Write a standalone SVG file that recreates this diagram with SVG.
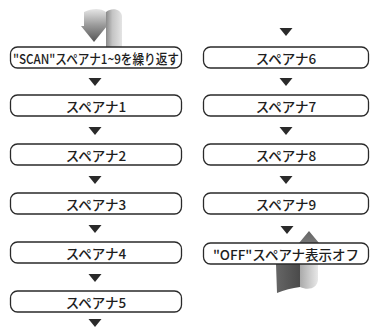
<svg xmlns="http://www.w3.org/2000/svg" width="371" height="329" viewBox="0 0 371 329">
<defs>
<style>
.box{fill:#fff;stroke:#2a2a2a;stroke-width:1.3}
.lbl{font-family:"Noto Sans CJK JP","Noto Sans",sans-serif;font-size:13.5px;font-weight:500;fill:#1e1e1e;text-anchor:middle;dominant-baseline:central}
.arr{fill:#2a2a2a}
</style>
<linearGradient id="gBody" x1="0" y1="0" x2="0" y2="1">
<stop offset="0" stop-color="#e6e6e6"/><stop offset="0.5" stop-color="#999"/><stop offset="1" stop-color="#555"/>
</linearGradient>
<linearGradient id="gStrip" x1="0" y1="0" x2="1" y2="0">
<stop offset="0" stop-color="#8a8a8a"/><stop offset="0.4" stop-color="#c4c4c4"/><stop offset="1" stop-color="#e4e4e4"/>
</linearGradient>
<linearGradient id="gDark" x1="0" y1="0" x2="1" y2="0">
<stop offset="0" stop-color="#666"/><stop offset="1" stop-color="#4a4a4a"/>
</linearGradient>
<linearGradient id="gLight" x1="0" y1="0" x2="1" y2="0">
<stop offset="0" stop-color="#aaa"/><stop offset="1" stop-color="#e8e8e8"/>
</linearGradient>
<linearGradient id="gUp" x1="0" y1="0" x2="0" y2="1">
<stop offset="0" stop-color="#666"/><stop offset="1" stop-color="#999"/>
</linearGradient>
</defs>

<g id="loop-top">
<path d="M106,12 C112,7 121,9 122,16 L122,48 L106,48 Z" fill="url(#gStrip)"/>
<path d="M84,12 C92,8 101,8 106,12 L106,26 L107,26 L94,42 L81,26 L84,26 Z" fill="url(#gBody)"/>
</g>

<g id="loop-bottom">
<path d="M309,231 L319,243 L316,243 L316,268 L302,268 L302,243 L299,243 Z" fill="url(#gUp)"/>
<path d="M300,264 L318,264 L318,280 C317,288 309,291 300,287 Z" fill="url(#gLight)"/>
<path d="M276,264 L300,264 L300,287 C292,288 284,290 277,293 Z" fill="url(#gDark)"/>
</g>

<g id="connectors">
<path class="arr" d="M88.5,78 L101.5,78 L95,86 Z"/>
<path class="arr" d="M88.5,127 L101.5,127 L95,135 Z"/>
<path class="arr" d="M88.5,176 L101.5,176 L95,184 Z"/>
<path class="arr" d="M88.5,225 L101.5,225 L95,233 Z"/>
<path class="arr" d="M88.5,274 L101.5,274 L95,282 Z"/>
<path class="arr" d="M88.5,319 L101.5,319 L95,327 Z"/>
<path class="arr" d="M279.5,28 L292.5,28 L286,36 Z"/>
<path class="arr" d="M279.5,78 L292.5,78 L286,86 Z"/>
<path class="arr" d="M279.5,127 L292.5,127 L286,135 Z"/>
<path class="arr" d="M279.5,176 L292.5,176 L286,184 Z"/>
<path class="arr" d="M280.5,226 L293.5,226 L287,234 Z"/>
</g>

<g id="n-scan"><rect class="box" x="10.5" y="47" width="171" height="21" rx="7"/><text class="lbl" x="96" y="57.5" textLength="166" lengthAdjust="spacingAndGlyphs">"SCAN"スペアナ1~9を繰り返す</text></g>
<g id="n-1"><rect class="box" x="10.5" y="95" width="171" height="21" rx="7"/><text class="lbl" x="96" y="105.5">スペアナ1</text></g>
<g id="n-2"><rect class="box" x="10.5" y="144" width="171" height="21" rx="7"/><text class="lbl" x="96" y="154.5">スペアナ2</text></g>
<g id="n-3"><rect class="box" x="10.5" y="193" width="171" height="21" rx="7"/><text class="lbl" x="96" y="203.5">スペアナ3</text></g>
<g id="n-4"><rect class="box" x="10.5" y="242" width="171" height="21" rx="7"/><text class="lbl" x="96" y="252.5">スペアナ4</text></g>
<g id="n-5"><rect class="box" x="10.5" y="291" width="171" height="21" rx="7"/><text class="lbl" x="96" y="301.5">スペアナ5</text></g>

<g id="n-6"><rect class="box" x="203.5" y="47" width="165" height="21" rx="7"/><text class="lbl" x="286" y="57.5">スペアナ6</text></g>
<g id="n-7"><rect class="box" x="203.5" y="95" width="165" height="21" rx="7"/><text class="lbl" x="286" y="105.5">スペアナ7</text></g>
<g id="n-8"><rect class="box" x="203.5" y="144" width="165" height="21" rx="7"/><text class="lbl" x="286" y="154.5">スペアナ8</text></g>
<g id="n-9"><rect class="box" x="203.5" y="193" width="165" height="21" rx="7"/><text class="lbl" x="286" y="203.5">スペアナ9</text></g>
<g id="n-off"><rect class="box" x="203.5" y="243" width="165" height="21" rx="7"/><text class="lbl" x="286" y="253.5">"OFF"スペアナ表示オフ</text></g>
</svg>
